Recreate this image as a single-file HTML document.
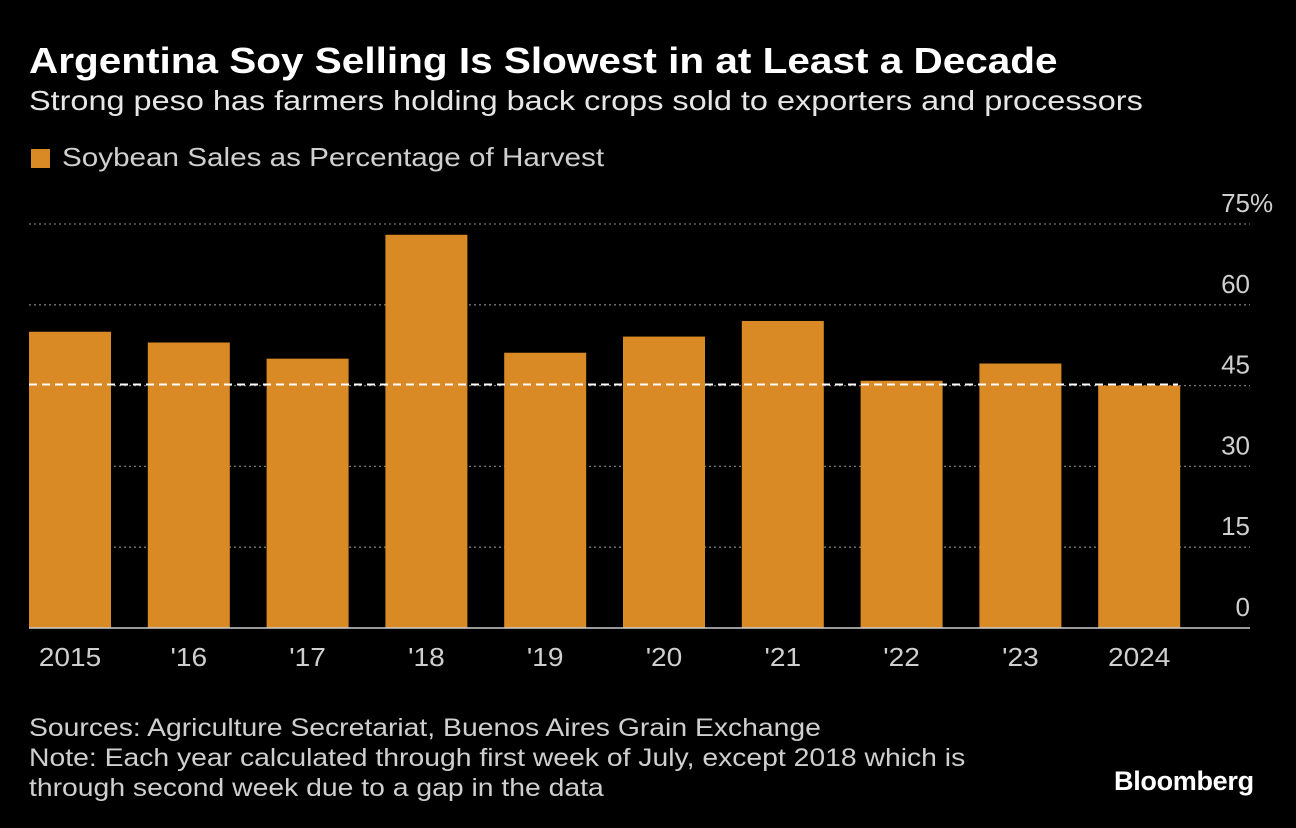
<!DOCTYPE html>
<html><head><meta charset="utf-8"><style>
body{margin:0;background:#000;width:1296px;height:828px;overflow:hidden;font-family:"Liberation Sans",sans-serif;color:#fff}
.t{position:absolute;white-space:nowrap;transform-origin:0 0}
</style></head><body>
<div class="t" style="left:29px;top:40px;font-size:36px;font-weight:bold;transform:scaleX(1.125)">Argentina Soy Selling Is Slowest in at Least a Decade</div>
<div class="t" style="left:29px;top:85px;font-size:28px;color:#e6e6e6;transform:scaleX(1.158)">Strong peso has farmers holding back crops sold to exporters and processors</div>
<div class="t" style="left:31px;top:142px;font-size:26px;color:#cfcfcf"><span style="display:inline-block;width:19px;height:19px;background:#d98a24;vertical-align:-2px;margin-right:12px"></span><span style="display:inline-block;transform:scaleX(1.14);transform-origin:0 0">Soybean Sales as Percentage of Harvest</span></div>
<svg id="chart" width="1296" height="828" style="position:absolute;left:0;top:0"></svg>
<div class="t" style="left:29px;top:713px;font-size:25px;line-height:30px;color:#cfcfcf;transform:scaleX(1.133)">Sources: Agriculture Secretariat, Buenos Aires Grain Exchange<br>Note: Each year calculated through first week of July, except 2018 which is<br>through second week due to a gap in the data</div>
<div class="t" style="left:1114px;top:766px;font-size:27px;font-weight:bold;letter-spacing:-0.3px">Bloomberg</div>
<script>
const categories=["2015","'16","'17","'18","'19","'20","'21","'22","'23","2024"];
const values=[55.0,53.0,50.0,73.0,51.1,54.1,57.0,45.9,49.1,45.0];
const ticks=[0,15,30,45,60,75];
const tickLabels=["0","15","30","45","60","75"];
const refValue=45.2;
const svg=document.getElementById('chart');const NS='http://www.w3.org/2000/svg';
const y=v=>628-v*(404/75);
const x0=29,step=118.8,bw=82;
function mk(t,a){const e=document.createElementNS(NS,t);for(const k in a)e.setAttribute(k,a[k]);svg.appendChild(e);return e;}
ticks.forEach((t,i)=>{
 if(t>0){const g=mk('line',{x1:29,x2:1250,y1:y(t),y2:y(t),stroke:'#777','stroke-width':1.3,'stroke-dasharray':'2,3'});
 
 }
 const tx=mk('text',{x:1250,y:y(t)-12,'text-anchor':'end','font-size':26,fill:'#cfcfcf','font-family':'Liberation Sans'});
 tx.textContent=tickLabels[i];
 
 
 if(i===ticks.length-1){
  const pc=mk('text',{x:1250,y:y(t)-12,'font-size':26,fill:'#cfcfcf','font-family':'Liberation Sans'});
  pc.textContent='%';
  
  
 }
});
values.forEach((v,i)=>{
 const b=mk('rect',{x:x0+i*step,y:y(v),width:bw,height:628-y(v),fill:'#d98a24'});
 
 
 const cx=x0+i*step+bw/2;
 const l=mk('text',{x:cx,y:666,'text-anchor':'middle','font-size':26,fill:'#cfcfcf','font-family':'Liberation Sans',transform:'translate('+cx+',0) scale(1.08,1) translate('+(-cx)+',0)'});
 l.textContent=categories[i];
 
 
});
const ax=mk('line',{x1:29,x2:1250,y1:628,y2:628,stroke:'#ccc','stroke-width':1.5});


const r=mk('line',{x1:29,x2:1178,y1:y(refValue),y2:y(refValue),stroke:'#fff','stroke-width':2,'stroke-dasharray':'8,5'});


</script>
</body></html>
